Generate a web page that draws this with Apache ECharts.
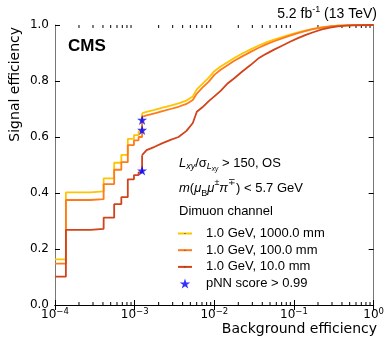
<!DOCTYPE html>
<html>
<head>
<meta charset="utf-8">
<script src="https://cdn.jsdelivr.net/npm/echarts@6/dist/echarts.min.js"></script>
<style>
  html, body { margin: 0; padding: 0; background: #fff; }
  #chart { width: 387px; height: 341px; }
</style>
</head>
<body>
<div id="chart"></div>
<script>
// low background efficiency: coarse steps of the ROC curves
const lowBkg = [ 1e-4, 1.37e-4, 2.77e-4, 4.08e-4, 5.53e-4, 6.8e-4, 8.2e-4, 9.8e-4, 1.12e-3, 1.24e-3 ];
const low1000 = [ 0.163, 0.402, 0.406, 0.452, 0.508, 0.536, 0.593, 0.607, 0.620, 0.685 ];
const low100 = [ 0.148, 0.375, 0.378, 0.432, 0.483, 0.510, 0.571, 0.588, 0.600, 0.672 ];
const low10 = [ 0.101, 0.268, 0.272, 0.312, 0.360, 0.385, 0.449, 0.464, 0.474, 0.535 ];

// higher background efficiency: dense part of the ROC curves
const highBkg = [
	1.24e-3, 1.41e-3, 1.78e-3, 2.24e-3, 2.82e-3, 3.55e-3, 4.47e-3, 5.37e-3, 6.03e-3,
	7.08e-3, 8.51e-3, 1.0e-2, 1.2e-2, 1.48e-2, 1.78e-2, 2.24e-2, 2.82e-2, 3.55e-2,
	4.47e-2, 5.62e-2, 7.08e-2, 8.91e-2, 0.112, 0.141, 0.178, 0.224, 0.282, 0.355,
	0.447, 0.562, 1.0
];
const high1000 = [
	0.685, 0.690, 0.697, 0.705, 0.712, 0.720, 0.730, 0.745, 0.770,
	0.790, 0.812, 0.835, 0.852, 0.868, 0.882, 0.898, 0.912, 0.926,
	0.938, 0.948, 0.957, 0.966, 0.974, 0.981, 0.987, 0.992, 0.995, 0.998,
	0.999, 1.0, 1.0
];
const high100 = [
	0.672, 0.677, 0.684, 0.692, 0.700, 0.708, 0.718, 0.732, 0.755,
	0.776, 0.798, 0.822, 0.840, 0.857, 0.872, 0.888, 0.903, 0.918,
	0.931, 0.942, 0.952, 0.962, 0.971, 0.979, 0.986, 0.991, 0.995, 0.998,
	0.999, 1.0, 1.0
];
const high10 = [
	0.535, 0.553, 0.565, 0.578, 0.590, 0.600, 0.622, 0.650, 0.690,
	0.706, 0.728, 0.745, 0.765, 0.792, 0.810, 0.834, 0.856, 0.880,
	0.897, 0.912, 0.926, 0.940, 0.953, 0.965, 0.975, 0.984, 0.991, 0.995,
	0.998, 0.999, 1.0
];

// working points, pNN score > 0.99
const wpBkg = [ 1.24e-3, 1.24e-3, 1.24e-3 ];
const wpSig = [ 0.661, 0.625, 0.48 ];

const names = [ '1.0 GeV, 1000.0 mm', '1.0 GeV, 100.0 mm', '1.0 GeV, 10.0 mm', 'pNN score > 0.99' ];
const colors = [ '#ffc400', '#ff7a1a', '#d2431a' ];

const STAR = 'path://M50,0 L61.8,35.4 L99,35.4 L68.9,57.3 L80.3,92.7 L50,70.8 L19.7,92.7 L31.1,57.3 L1,35.4 L38.2,35.4 Z';
// tiny dot inside a 10x10 box, used as the legend marker of the lines
const DOT = 'path://M0,0 M4.4,4.4 L5.6,4.4 L5.6,5.6 L4.4,5.6 Z M10,10';

// minor tick positions on the log axis
const minorTicks = [];
for ( let e = -4; e < 0; e++ ) {
	for ( let k = 2; k <= 9; k++ ) minorTicks.push( [ k * Math.pow( 10, e ), 0 ] );
}

const sans = 'Liberation Sans';
const dejavu = 'DejaVu Sans';

function pairs( xs, ys ) {
	return xs.map( ( x, i ) => [ x, ys[ i ] ] );
}

function lineSeries( name, xs, ys, color, step ) {
	return {
		name: name,
		type: 'line',
		step: step,
		data: pairs( xs, ys ),
		symbol: DOT,
		showSymbol: false,
		lineStyle: { color: color, width: 1.8 },
		itemStyle: { color: '#333' },
		emphasis: { disabled: true },
		animation: false
	};
}

const supRich = {
	b: { fontFamily: dejavu, fontSize: 12, color: '#000', lineHeight: 16 },
	s: { fontFamily: dejavu, fontSize: 8.5, color: '#000', verticalAlign: 'top', lineHeight: 16, padding: [ 0, 0, 6, 0 ] }
};

const chart = echarts.init( document.getElementById( 'chart' ), null, { renderer: 'canvas' } );

chart.setOption( {
	animation: false,
	grid: { left: 55, right: 9, top: 25, bottom: 36 },
	xAxis: [ {
		type: 'log',
		logBase: 10,
		min: 1e-4,
		max: 1,
		position: 'bottom',
		axisLine: { lineStyle: { color: '#000', width: 1 } },
		axisTick: { inside: true, length: 5, lineStyle: { color: '#000' } },
		splitLine: { show: false },
		axisLabel: {
			margin: 2,
			formatter: function ( v ) {
				const e = Math.round( Math.log10( v ) );
				return '{b|10}{s|' + ( e < 0 ? '\u2212' + ( -e ) : e ) + '}';
			},
			rich: supRich
		}
	}, {
		type: 'log',
		logBase: 10,
		min: 1e-4,
		max: 1,
		position: 'top',
		axisLine: { lineStyle: { color: '#000', width: 1 } },
		axisTick: { inside: true, length: 5, lineStyle: { color: '#000' } },
		splitLine: { show: false },
		axisLabel: { show: false }
	} ],
	yAxis: [ {
		type: 'value',
		min: 0,
		max: 1,
		interval: 0.2,
		axisLine: { show: true, lineStyle: { color: '#777', width: 1 } },
		axisTick: { inside: true, length: 5, lineStyle: { color: '#000' } },
		splitLine: { show: false },
		axisLabel: {
			margin: 6,
			fontFamily: dejavu,
			fontSize: 12,
			color: '#000',
			formatter: v => v.toFixed( 1 )
		}
	}, {
		type: 'value',
		min: 0,
		max: 1,
		interval: 0.2,
		position: 'right',
		axisLine: { show: true, lineStyle: { color: '#777', width: 1 } },
		axisTick: { inside: true, length: 5, lineStyle: { color: '#000' } },
		splitLine: { show: false },
		axisLabel: { show: false }
	} ],
	legend: {
		orient: 'vertical',
		left: 177,
		top: 227,
		padding: 0,
		itemWidth: 14,
		itemHeight: 10,
		itemGap: 3.7,
		selectedMode: false,
		data: names,
		textStyle: { fontFamily: sans, fontSize: 13, color: '#000', padding: [ 0, 0, 0, 9 ] }
	},
	graphic: [
		{
			type: 'text', x: 377, y: 14,
			style: {
				text: '5.2 fb{sp|-1} (13 TeV)',
				align: 'right', verticalAlign: 'middle',
				fontFamily: sans, fontSize: 14, fill: '#000',
				rich: { sp: { fontFamily: sans, fontSize: 9, verticalAlign: 'top', lineHeight: 17, padding: [ 0, 0, 6, 0 ] } }
			}
		},
		{
			type: 'text', x: 68, y: 46,
			style: { text: 'CMS', verticalAlign: 'middle', fontFamily: sans, fontSize: 17, fontWeight: 'bold', fill: '#000' }
		},
		{
			type: 'text', x: 15, y: 27, rotation: Math.PI / 2,
			style: { text: 'Signal efficiency', align: 'right', verticalAlign: 'middle', fontFamily: dejavu, fontSize: 14, fill: '#000' }
		},
		{
			type: 'text', x: 377, y: 329,
			style: { text: 'Background efficiency', align: 'right', verticalAlign: 'middle', fontFamily: dejavu, fontSize: 14, fill: '#000' }
		},
		{
			type: 'text', x: 179, y: 163,
			style: {
				text: '{i|L}{sb|xy}/\u03c3{sb|L}{ssb|xy} > 150, OS',
				verticalAlign: 'middle', fontFamily: sans, fontSize: 13, fill: '#000',
				rich: {
					i: { fontFamily: sans, fontSize: 13, fontStyle: 'italic', lineHeight: 20 },
					sb: { fontFamily: sans, fontSize: 9, fontStyle: 'italic', verticalAlign: 'bottom', lineHeight: 20, padding: [ 0, 0, 2, 0 ] },
					ssb: { fontFamily: sans, fontSize: 6.5, fontStyle: 'italic', verticalAlign: 'bottom', lineHeight: 20 }
				}
			}
		},
		{
			type: 'text', x: 179, y: 188,
			style: {
				text: '{i|m}({i|\u03bc}{sb|B}{i|\u03bc}{sp|\u00b1}{i|\u03c0}{sp|\u2213}) < 5.7 GeV',
				verticalAlign: 'middle', fontFamily: sans, fontSize: 13, fill: '#000',
				rich: {
					i: { fontFamily: sans, fontSize: 13, fontStyle: 'italic', lineHeight: 20 },
					sb: { fontFamily: sans, fontSize: 9, verticalAlign: 'bottom', lineHeight: 20 },
					sp: { fontFamily: sans, fontSize: 9, verticalAlign: 'top', lineHeight: 20, padding: [ 0, 0, 2, 0 ] }
				}
			}
		},
		{
			type: 'text', x: 179, y: 211,
			style: { text: 'Dimuon channel', verticalAlign: 'middle', fontFamily: sans, fontSize: 13, fill: '#000' }
		}
	],
	series: [
		lineSeries( names[ 0 ], lowBkg, low1000, colors[ 0 ], 'end' ),
		lineSeries( names[ 0 ], highBkg, high1000, colors[ 0 ], false ),
		lineSeries( names[ 1 ], lowBkg, low100, colors[ 1 ], 'end' ),
		lineSeries( names[ 1 ], highBkg, high100, colors[ 1 ], false ),
		lineSeries( names[ 2 ], lowBkg, low10, colors[ 2 ], 'end' ),
		lineSeries( names[ 2 ], highBkg, high10, colors[ 2 ], false ),
		{
			name: names[ 3 ],
			type: 'scatter',
			data: pairs( wpBkg, wpSig ),
			symbol: STAR,
			symbolSize: 10,
			itemStyle: { color: '#0000ff' },
			z: 5
		},
		{
			type: 'custom',
			silent: true,
			data: minorTicks,
			renderItem: function ( params, api ) {
				const x = api.value( 0 );
				const pb = api.coord( [ x, 0 ] );
				const pt = api.coord( [ x, 1 ] );
				return {
					type: 'group',
					children: [
						{ type: 'line', shape: { x1: pb[ 0 ], y1: pb[ 1 ], x2: pb[ 0 ], y2: pb[ 1 ] - 3 }, style: { stroke: '#000', lineWidth: 1 } },
						{ type: 'line', shape: { x1: pt[ 0 ], y1: pt[ 1 ], x2: pt[ 0 ], y2: pt[ 1 ] + 3 }, style: { stroke: '#000', lineWidth: 1 } }
					]
				};
			}
		}
	]
} );
</script>
</body>
</html>
